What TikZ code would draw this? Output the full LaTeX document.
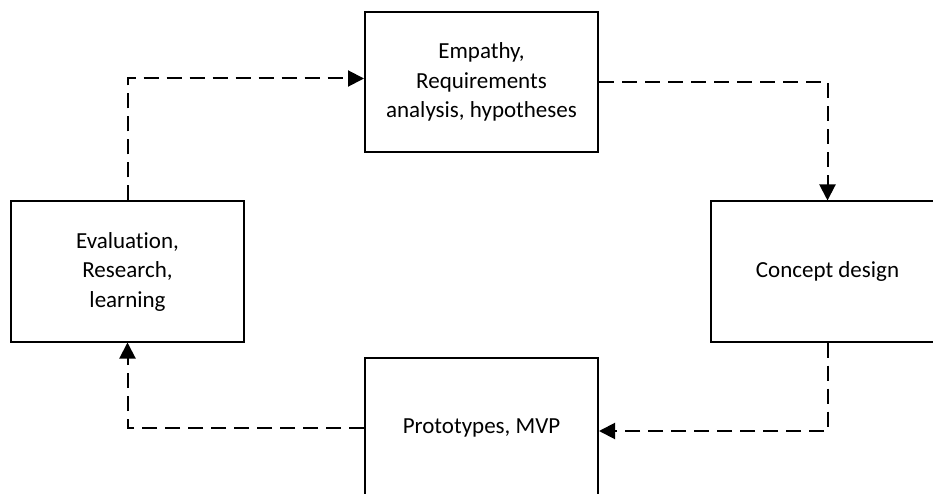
\documentclass[tikz,border=0pt]{standalone}
\usepackage{fontspec}
\setmainfont{Carlito}[Ligatures={NoCommon}]
\usetikzlibrary{arrows.meta,calc}
\begin{document}
\begin{tikzpicture}[x=1pt,y=-1pt,
  stage/.style={draw, line width=2pt, minimum width=233pt, minimum height=140pt,
    align=center, inner sep=0pt, font=\fontsize{23}{29.5}\selectfont},
  flow/.style={line width=2pt, dash pattern=on 15pt off 8pt,
    -{Triangle[length=16pt,width=16pt]}}]
\useasboundingbox (0,0) rectangle (933,494);
\clip (0,0) rectangle (933,494);

% the four stages of the cycle
\node[stage] (top)    at (481.5,82)   {Empathy,\\Requirements\\analysis, hypotheses};
\node[stage] (right)  at (827.5,271.5) {Concept design};
\node[stage] (bottom) at (481.5,427.5) {Prototypes, MVP};
\node[stage] (left)   at (127.5,271.5) {Evaluation,\\Research,\\learning};

% dashed connectors running clockwise
\draw[flow] (top.east) -| (right.north);
\draw[flow] (right.south) |- ($(bottom.east)+(0,3.5)$);
\draw[flow] (bottom.west) -| (left.south);
\draw[flow] (left.north) |- ($(top.west)+(0,-3.5)$);
\end{tikzpicture}
\end{document}
